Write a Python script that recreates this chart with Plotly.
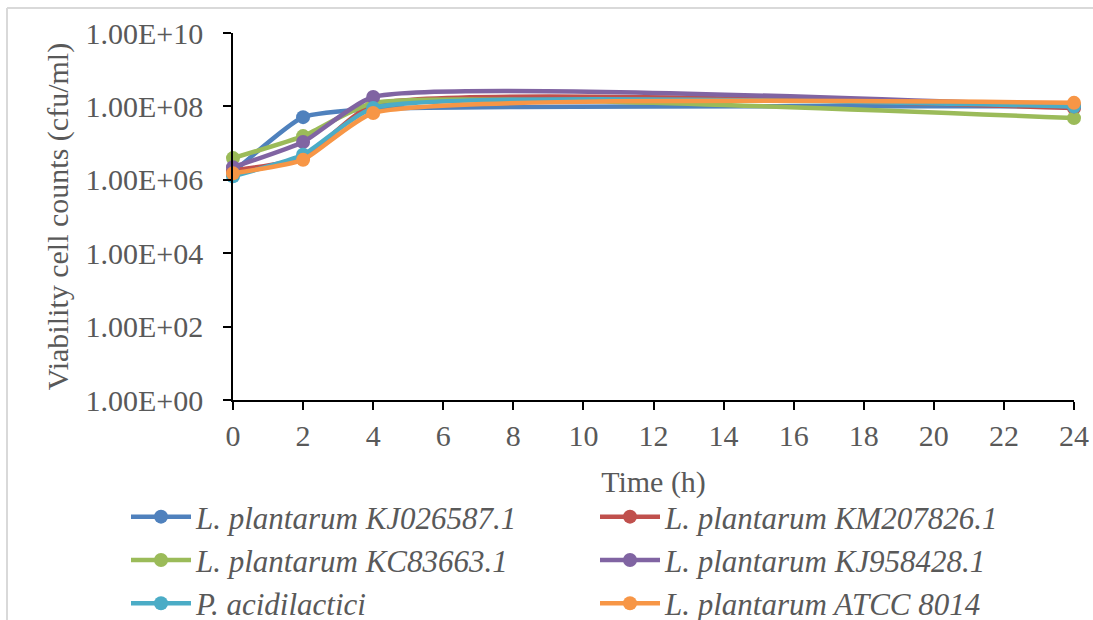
import plotly.graph_objects as go

time_h = [0, 2, 4, 24]
series_names = [
    "L. plantarum KJ026587.1",
    "L. plantarum KM207826.1",
    "L. plantarum KC83663.1",
    "L. plantarum KJ958428.1",
    "P. acidilactici",
    "L. plantarum ATCC 8014",
]
kj026587 = [1.6e6, 5.1e7, 8.5e7, 1.0e8]
km207826 = [1.8e6, 4.0e6, 1.1e8, 9.0e7]
kc83663 = [3.9e6, 1.55e7, 1.24e8, 4.8e7]
kj958428 = [2.2e6, 1.07e7, 1.8e8, 1.0e8]
p_acid = [1.25e6, 4.8e6, 9.0e7, 1.0e8]
atcc8014 = [1.5e6, 3.5e6, 6.6e7, 1.25e8]
series_values = [kj026587, km207826, kc83663, kj958428, p_acid, atcc8014]
colors = ["#4F81BD", "#C0504D", "#9BBB59", "#8064A2", "#4BACC6", "#F79646"]

y_tickvals = [1e0, 1e2, 1e4, 1e6, 1e8, 1e10]
y_ticktext = ["1.00E+00", "1.00E+02", "1.00E+04", "1.00E+06", "1.00E+08", "1.00E+10"]
x_tickvals = list(range(0, 25, 2))

FONT = "Liberation Serif, Times New Roman, serif"
FS = 30

W, H = 1093, 620
L, R, T, B = 233, 19, 33, 220
PW, PH = W - L - R, H - T - B

fig = go.Figure()
for name, vals, c in zip(series_names, series_values, colors):
    fig.add_trace(go.Scatter(
        x=time_h, y=vals, name=name, mode="lines+markers",
        line=dict(color=c, width=4.5, shape="spline", smoothing=0.5),
        marker=dict(color=c, size=14),
        cliponaxis=False,
    ))

fig.update_layout(
    width=W, height=H,
    margin=dict(l=L, r=R, t=T, b=B, autoexpand=False),
    paper_bgcolor="white", plot_bgcolor="white",
    font=dict(family=FONT, size=FS, color="#595959"),
    showlegend=True,
    legend=dict(
        orientation="h", x=(126 - L) / PW, y=-90 / PH, xanchor="left", yanchor="top",
        entrywidth=394, entrywidthmode="pixels",
        font=dict(family=FONT, size=31, color="#595959", style="italic"),
        itemwidth=60, tracegroupgap=0, bgcolor="rgba(0,0,0,0)",
    ),
    shapes=[
        dict(type="line", xref="paper", yref="paper",
             x0=(7 - L) / PW, x1=(7 - L) / PW, y0=-(H - T - PH) / PH - 0.05, y1=(PH + T - 8) / PH,
             line=dict(color="#D9D9D9", width=2)),
        dict(type="line", xref="paper", yref="paper",
             x0=(7 - L) / PW, x1=(W - L) / PW + 0.05, y0=(PH + T - 8) / PH, y1=(PH + T - 8) / PH,
             line=dict(color="#D9D9D9", width=2)),
    ],
)
fig.update_xaxes(
    range=[0, 24], tickvals=x_tickvals, showgrid=False, zeroline=False,
    showline=True, linecolor="black", linewidth=1.5,
    ticks="outside", ticklen=8, tickcolor="black", tickwidth=1.5,
    title=dict(text="Time (h)", font=dict(family=FONT, size=FS, color="#595959"), standoff=20),
)
fig.update_yaxes(
    type="log", range=[0, 10], tickvals=y_tickvals, ticktext=y_ticktext,
    showgrid=False, zeroline=False,
    showline=True, linecolor="black", linewidth=1.5,
    ticks="outside", ticklen=8, tickcolor="black", tickwidth=1.5,
    ticklabelstandoff=14,
    title=dict(text="Viability cell counts (cfu/ml)", font=dict(family=FONT, size=FS, color="#595959"), standoff=8),
)

fig.write_html(
    "out.html",
    config={"displayModeBar": False},
    post_script="document.body.style.margin='0';document.body.style.overflow='hidden';",
)
